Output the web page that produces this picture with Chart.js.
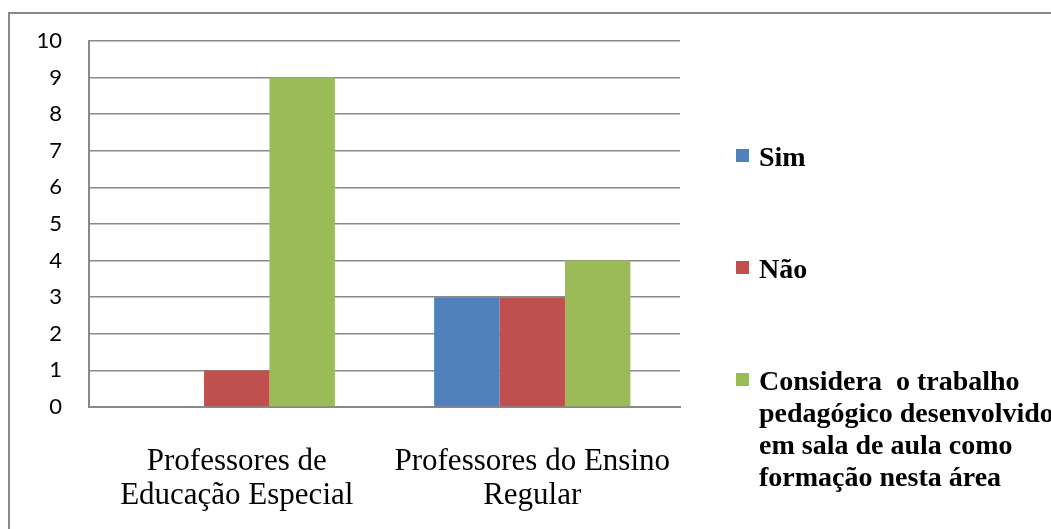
<!DOCTYPE html>
<html>
<head>
<meta charset="utf-8">
<script src="https://cdn.jsdelivr.net/npm/chart.js@4.4.0/dist/chart.umd.min.js"></script>
<style>
    html, body { margin: 0; padding: 0; background: #fff; overflow: hidden; }
    #wrap { position: relative; width: 1051px; height: 529px; }
    #frame { position: absolute; left: 8px; top: 12px; width: 1060px; height: 540px; border: 2px solid #888; box-sizing: border-box; }
    #chart-box { position: absolute; left: 0; top: 0; width: 1051px; height: 529px; }
    #legend { position: absolute; left: 736px; top: 0; font-family: "Liberation Serif", "Times New Roman", serif; font-weight: bold; font-size: 28px; line-height: 32px; color: #000; white-space: pre; }
    #legend .item { position: absolute; left: 0; }
    #legend .box { position: absolute; left: 0; top: 8px; width: 13px; height: 13px; }
    #legend .txt { position: absolute; left: 23px; top: 0; }
</style>
</head>
<body>
<div id="wrap">
    <div id="frame"></div>
    <div id="chart-box"><canvas id="chart-prof"></canvas></div>
    <div id="legend"></div>
</div>
<script>
    var categories = [["Professores de", "Educação Especial"], ["Professores do Ensino", "Regular"]];
    var seriesNames = ["Sim", "Não", ["Considera  o trabalho", "pedagógico desenvolvido", "em sala de aula como", "formação nesta área"]];
    var simValues = [0, 3];
    var naoValues = [1, 3];
    var consideraValues = [9, 4];
    var seriesColors = ["#4F81BD", "#C0504D", "#9BBB59"];
    var legendTops = [141, 253, 365];

    var datasets = [simValues, naoValues, consideraValues].map(function (vals, i) {
        return {
            label: Array.isArray(seriesNames[i]) ? seriesNames[i].join(" ") : seriesNames[i],
            data: vals,
            backgroundColor: seriesColors[i],
            borderWidth: 0,
            barPercentage: 1.0,
            categoryPercentage: 0.664
        };
    });

    var chartProf = new Chart(document.getElementById("chart-prof"), {
        type: 'bar',
        data: { labels: categories, datasets: datasets },
        options: {
            responsive: true,
            maintainAspectRatio: false,
            animation: false,
            layout: { padding: { left: 0, top: 41, right: 371, bottom: 0 } },
            plugins: { legend: { display: false }, tooltip: { enabled: false } },
            scales: {
                x: {
                    grid: { display: false, drawTicks: false },
                    border: { display: true, color: "#888", width: 2 },
                    ticks: {
                        color: "#000",
                        padding: 38,
                        font: { family: "'Liberation Serif', 'Times New Roman', serif", size: 31, lineHeight: 1.1 }
                    },
                    afterFit: function (scale) { scale.height = 122; }
                },
                y: {
                    min: 0,
                    max: 10,
                    grid: { color: "#8a8a8a", lineWidth: 1.5, drawTicks: false },
                    border: { display: true, color: "#888", width: 2 },
                    ticks: {
                        stepSize: 1,
                        color: "#000",
                        padding: 27,
                        font: { family: "Lato, 'Open Sans', sans-serif", size: 22 }
                    },
                    afterFit: function (scale) { scale.width = 89; }
                }
            }
        }
    });

    var legend = document.getElementById("legend");
    seriesNames.forEach(function (name, i) {
        var item = document.createElement("div");
        item.className = "item";
        item.style.top = legendTops[i] + "px";
        var box = document.createElement("div");
        box.className = "box";
        box.style.background = seriesColors[i];
        var txt = document.createElement("div");
        txt.className = "txt";
        txt.textContent = (Array.isArray(name) ? name : [name]).join("\n");
        item.appendChild(box);
        item.appendChild(txt);
        legend.appendChild(item);
    });
</script>
</body>
</html>
